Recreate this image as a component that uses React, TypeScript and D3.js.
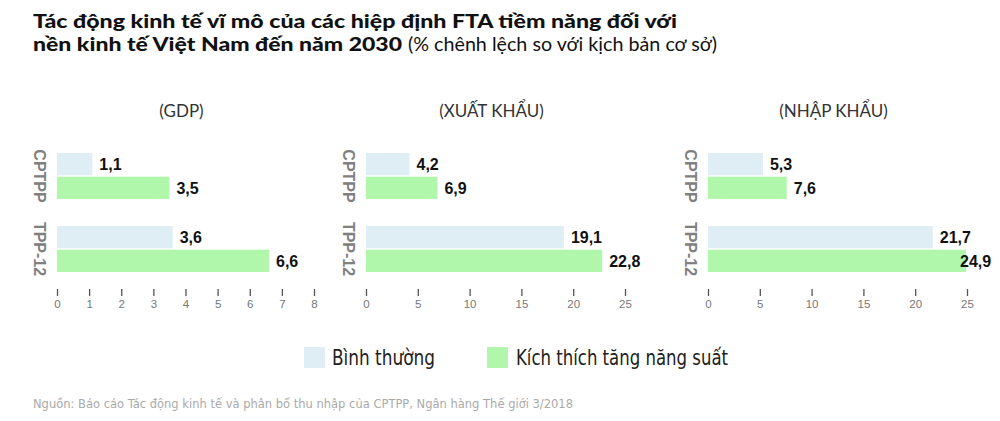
import { useEffect, useRef } from "react";
import * as d3 from "d3";

const panelTitles = ["(GDP)", "(XUẤT KHẨU)", "(NHẬP KHẨU)"];
const categories = ["CPTPP", "TPP-12"];
const seriesNames = ["Bình thường", "Kích thích tăng năng suất"];
const seriesColors = ["#dfeef4", "#b0f7ab"];

// [CPTPP, TPP-12]
const gdpNormal = [1.1, 3.6];
const gdpBoost = [3.5, 6.6];
const exportNormal = [4.2, 19.1];
const exportBoost = [6.9, 22.8];
const importNormal = [5.3, 21.7];
const importBoost = [7.6, 24.9];

const axisMax = [8, 25, 25];
const tickStep = [1, 5, 5];

const titleLine1 = "Tác động kinh tế vĩ mô của các hiệp định FTA tiềm năng đối với";
const titleLine2Bold = "nền kinh tế Việt Nam đến năm 2030";
const titleLine2Rest = "(% chênh lệch so với kịch bản cơ sở)";
const sourceText =
  "Nguồn: Báo cáo Tác động kinh tế và phân bổ thu nhập của CPTPP, Ngân hàng Thế giới 3/2018";

export default function App() {
  const ref = useRef<HTMLDivElement>(null);

  useEffect(() => {
    if (!ref.current) return;
    const container = ref.current;
    container.innerHTML = "";

    const width = 1000;
    const height = 421;

    const svg = d3
      .select(container)
      .append("svg")
      .attr("width", width)
      .attr("height", height)
      .style("display", "block")
      .style("background", "#fff");

    // title
    const titleFont = "Lato, 'Noto Sans', sans-serif";
    svg
      .append("text")
      .attr("x", 33)
      .attr("y", 28)
      .attr("textLength", 644)
      .attr("lengthAdjust", "spacingAndGlyphs")
      .style("font-family", titleFont)
      .style("font-weight", 900)
      .style("font-size", "19px")
      .style("fill", "#111")
      .text(titleLine1);

    const t2 = svg
      .append("text")
      .attr("y", 51)
      .style("font-family", titleFont)
      .style("font-size", "19px")
      .style("fill", "#111");
    t2.append("tspan")
      .attr("x", 33)
      .attr("textLength", 369)
      .attr("lengthAdjust", "spacingAndGlyphs")
      .style("font-weight", 900)
      .text(titleLine2Bold);
    t2.append("tspan")
      .attr("x", 408)
      .attr("textLength", 309)
      .attr("lengthAdjust", "spacingAndGlyphs")
      .style("font-weight", 400)
      .text(titleLine2Rest);

    const panelData = [
      [gdpNormal, gdpBoost],
      [exportNormal, exportBoost],
      [importNormal, importBoost],
    ];
    const panelX = [57, 366, 708];
    const panelW = [257, 259, 259];

    const y = d3.scaleBand<string>().domain(categories).range([153, 272]).paddingInner(0.37).paddingOuter(0);
    const ySub = d3
      .scaleBand<string>()
      .domain(seriesNames)
      .range([0, y.bandwidth()])
      .paddingInner(0.06);

    const fmt = (v: number) => d3.format(".1f")(v).replace(".", ",");

    panelData.forEach((series, pi) => {
      const x = d3
        .scaleLinear()
        .domain([0, axisMax[pi]])
        .range([panelX[pi], panelX[pi] + panelW[pi]]);
      const g = svg.append("g");

      g.append("text")
        .attr("x", panelX[pi] + panelW[pi] / 2 - 4)
        .attr("y", 117)
        .attr("text-anchor", "middle")
        .style("font-family", titleFont)
        .style("font-size", "17px")
        .style("fill", "#333")
        .text(panelTitles[pi]);

      categories.forEach((cat, ci) => {
        const cy = y(cat)! + y.bandwidth() / 2;
        g.append("text")
          .attr("transform", `translate(${panelX[pi] - 17},${cy}) rotate(90)`)
          .attr("text-anchor", "middle")
          .attr("dy", "0.35em")
          .style("font-family", "'Liberation Sans', Arial, sans-serif")
          .style("font-weight", 700)
          .style("font-size", "16px")
          .style("fill", "#808080")
          .text(cat);

        seriesNames.forEach((s, si) => {
          const v = series[si][ci];
          const by = y(cat)! + ySub(s)!;
          g.append("rect")
            .attr("x", x(0))
            .attr("y", by)
            .attr("width", x(v) - x(0))
            .attr("height", ySub.bandwidth())
            .attr("fill", seriesColors[si]);
          // keep the value label inside the picture
          g.append("text")
            .attr("x", Math.min(x(v) + 7, width - 40))
            .attr("y", by + ySub.bandwidth() / 2)
            .attr("dy", "0.36em")
            .style("font-family", "'Liberation Sans', Arial, sans-serif")
            .style("font-weight", 700)
            .style("font-size", "16px")
            .style("fill", "#111")
            .text(fmt(v));
        });
      });

      const axis = g
        .append("g")
        .attr("transform", "translate(0,289)")
        .call(
          d3
            .axisBottom(x)
            .tickValues(d3.range(0, axisMax[pi] + 0.001, tickStep[pi]))
            .tickSize(7)
            .tickPadding(4)
            .tickFormat(d3.format("d"))
        );
      axis.select(".domain").remove();
      axis.selectAll("line").attr("stroke", "#555").attr("stroke-width", 1.3);
      axis
        .selectAll("text")
        .attr("fill", "#777")
        .style("font-family", "'Liberation Sans', Arial, sans-serif")
        .style("font-size", "11.5px");
    });

    // legend
    const legendX = [304, 487];
    const legendTextX = [332, 516];
    const legendTextW = [103, 212];
    seriesNames.forEach((s, i) => {
      svg
        .append("rect")
        .attr("x", legendX[i])
        .attr("y", 347)
        .attr("width", 21)
        .attr("height", 21)
        .attr("fill", seriesColors[i]);
      svg
        .append("text")
        .attr("x", legendTextX[i])
        .attr("y", 365)
        .attr("textLength", legendTextW[i])
        .attr("lengthAdjust", "spacingAndGlyphs")
        .style("font-family", "'Liberation Sans Narrow', 'DejaVu Sans Condensed', sans-serif")
        .style("font-size", "21px")
        .style("fill", "#222")
        .text(s);
    });

    svg
      .append("text")
      .attr("x", 33)
      .attr("y", 408)
      .attr("textLength", 540)
      .attr("lengthAdjust", "spacingAndGlyphs")
      .style("font-family", "'Liberation Sans Narrow', 'DejaVu Sans Condensed', sans-serif")
      .style("font-size", "13px")
      .style("fill", "#aaa")
      .text(sourceText);
  }, []);

  return <div ref={ref} style={{ position: "absolute", left: 0, top: 0 }} />;
}
